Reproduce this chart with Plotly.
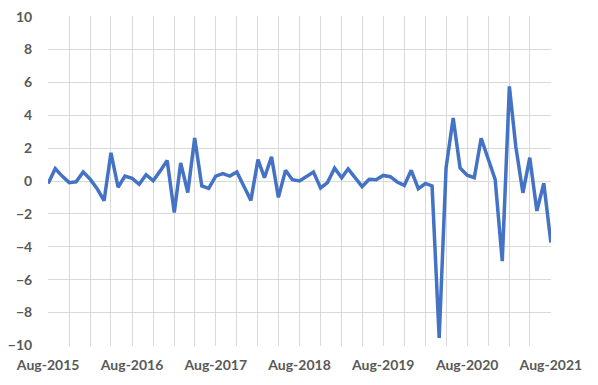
import pandas as pd
import plotly.graph_objects as go

start_month = "2015-08-01"
end_month = "2021-08-01"
values = [
    -0.15, 0.75, 0.3, -0.1, -0.05, 0.55, 0.1, -0.45, -1.2, 1.72,
    -0.38, 0.3, 0.16, -0.2, 0.38, 0.02, 0.6, 1.25, -1.92, 1.1,
    -0.7, 2.62, -0.3, -0.45, 0.3, 0.45, 0.3, 0.55, -0.3, -1.18,
    1.3, 0.2, 1.47, -1.0, 0.65, 0.08, 0.0, 0.27, 0.55, -0.42,
    -0.1, 0.78, 0.2, 0.74, 0.15, -0.34, 0.1, 0.08, 0.34, 0.26,
    -0.06, -0.27, 0.65, -0.47, -0.15, -0.3, -9.55, 0.8, 3.84, 0.8,
    0.35, 0.2, 2.6, 1.3, 0.1, -4.88, 5.76, 2.1, -0.72, 1.42,
    -1.82, -0.14, -3.75,
]
y_ticks = [-10, -8, -6, -4, -2, 0, 2, 4, 6, 8, 10]

dates = pd.date_range(start_month, end_month, freq="MS")
grid_dates = dates[::3]
grid_text = [d.strftime("%b-%Y") if d.month == 8 else "" for d in grid_dates]
pad = pd.Timedelta(hours=12)

fig = go.Figure()
fig.add_trace(go.Scatter(
    x=dates, y=values, mode="lines",
    line=dict(color="#4472C4", width=3.5),
    showlegend=False, cliponaxis=False,
))

tick_font = dict(family="Lato", size=14, color="#595959", weight="bold")
fig.update_layout(
    width=590, height=377,
    margin=dict(l=40, r=47, t=8, b=39),
    paper_bgcolor="white", plot_bgcolor="white",
    xaxis=dict(
        range=[dates[0] - pad, dates[-1] + pad], automargin=False,
        tickmode="array", tickvals=list(grid_dates), ticktext=grid_text,
        showgrid=True, gridcolor="#d9d9d9", gridwidth=1,
        zeroline=False, showline=False,
        ticks="outside", ticklen=6, tickcolor="rgba(0,0,0,0)",
        tickfont=tick_font, ticklabeloverflow="allow",
    ),
    yaxis=dict(
        range=[-10.04, 10.04], tickvals=y_ticks, automargin=False,
        showgrid=True, gridcolor="#d9d9d9", gridwidth=1,
        zeroline=False, showline=False,
        ticks="outside", ticklen=12, tickcolor="rgba(0,0,0,0)",
        tickfont=tick_font, ticklabeloverflow="allow",
    ),
)
fig.write_html("out.html")
